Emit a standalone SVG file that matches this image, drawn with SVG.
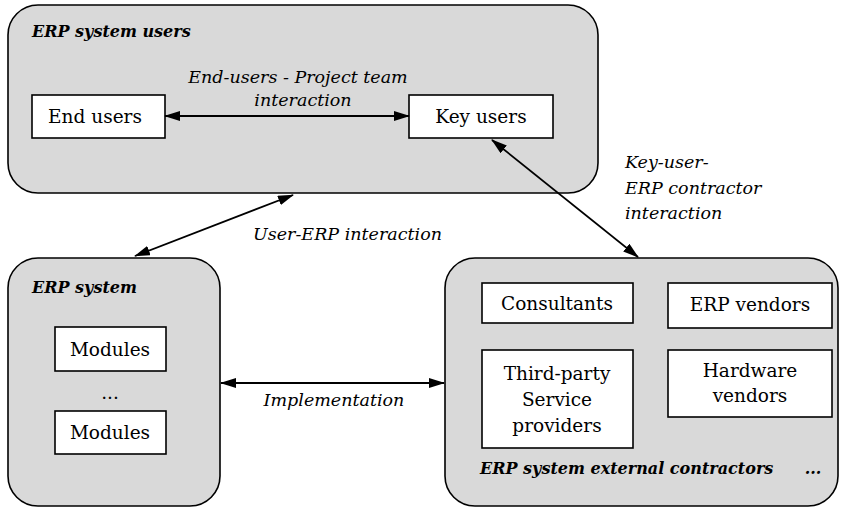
<svg xmlns="http://www.w3.org/2000/svg" width="842" height="509" viewBox="0 0 842 509">
<defs>
<style>
.container{fill:#d9d9d9;stroke:#000;stroke-width:1.6}
.box{fill:#fff;stroke:#000;stroke-width:1.6}
text{font-family:'DejaVu Serif','Liberation Serif',serif;fill:#000}
.t{font-size:18.5px;text-anchor:middle}
.title{font-size:16px;font-weight:bold;font-style:italic}
.lbl{font-size:17.5px;font-style:italic}
.conn{stroke:#000;stroke-width:1.8;fill:none;marker-start:url(#arr);marker-end:url(#arr)}
</style>
<marker id="arr" viewBox="0 0 16 10" refX="15" refY="5" markerWidth="16" markerHeight="10" markerUnits="userSpaceOnUse" orient="auto-start-reverse">
<path d="M0,0 L16,5 L0,10 z" fill="#000"/>
</marker>
</defs>

<g id="erp-system-users">
<rect class="container" x="8" y="5" width="590" height="188" rx="30"/>
<text class="title" x="32" y="37">ERP system users</text>
</g>
<g id="end-users">
<rect class="box" x="32" y="95" width="133" height="43"/>
<text class="t" x="95" y="123">End users</text>
</g>
<g id="key-users">
<rect class="box" x="409" y="95" width="144" height="43"/>
<text class="t" x="481" y="123">Key users</text>
</g>

<g id="erp-system">
<rect class="container" x="8" y="258" width="212" height="248" rx="30"/>
<text class="title" x="32" y="293">ERP system</text>
</g>
<g id="modules-1">
<rect class="box" x="55" y="327" width="111" height="44"/>
<text class="t" x="110" y="356">Modules</text>
</g>
<text class="t" x="110" y="399">...</text>
<g id="modules-2">
<rect class="box" x="55" y="411" width="111" height="43"/>
<text class="t" x="110" y="439">Modules</text>
</g>

<g id="erp-external-contractors">
<rect class="container" x="445" y="258" width="393" height="248" rx="30"/>
<text class="title" x="480" y="474">ERP system external contractors</text>
<text class="title" x="813" y="474" text-anchor="middle">...</text>
</g>
<g id="consultants">
<rect class="box" x="482" y="283" width="151" height="40"/>
<text class="t" x="557" y="310">Consultants</text>
</g>
<g id="erp-vendors">
<rect class="box" x="668" y="283" width="164" height="45"/>
<text class="t" x="750" y="311">ERP vendors</text>
</g>
<g id="third-party">
<rect class="box" x="482" y="350" width="151" height="98"/>
<text class="t" x="557" y="380">Third-party</text>
<text class="t" x="557" y="406">Service</text>
<text class="t" x="557" y="432">providers</text>
</g>
<g id="hardware-vendors">
<rect class="box" x="668" y="350" width="164" height="67"/>
<text class="t" x="750" y="377">Hardware</text>
<text class="t" x="750" y="402">vendors</text>
</g>

<g id="connectors">
<line class="conn" x1="165" y1="116" x2="409" y2="116"/>
<line class="conn" x1="293" y1="195" x2="135" y2="256"/>
<line class="conn" x1="492" y1="140" x2="638" y2="257"/>
<line class="conn" x1="221" y1="383" x2="444" y2="383"/>
</g>

<g id="labels">
<text class="lbl" x="298" y="83" text-anchor="middle">End-users - Project team</text>
<text class="lbl" x="303" y="106" text-anchor="middle">interaction</text>
<text class="lbl" x="253" y="240">User-ERP interaction</text>
<text class="lbl" x="625" y="168">Key-user-</text>
<text class="lbl" x="625" y="194">ERP contractor</text>
<text class="lbl" x="625" y="219">interaction</text>
<text class="lbl" x="334" y="406" text-anchor="middle">Implementation</text>
</g>
</svg>
